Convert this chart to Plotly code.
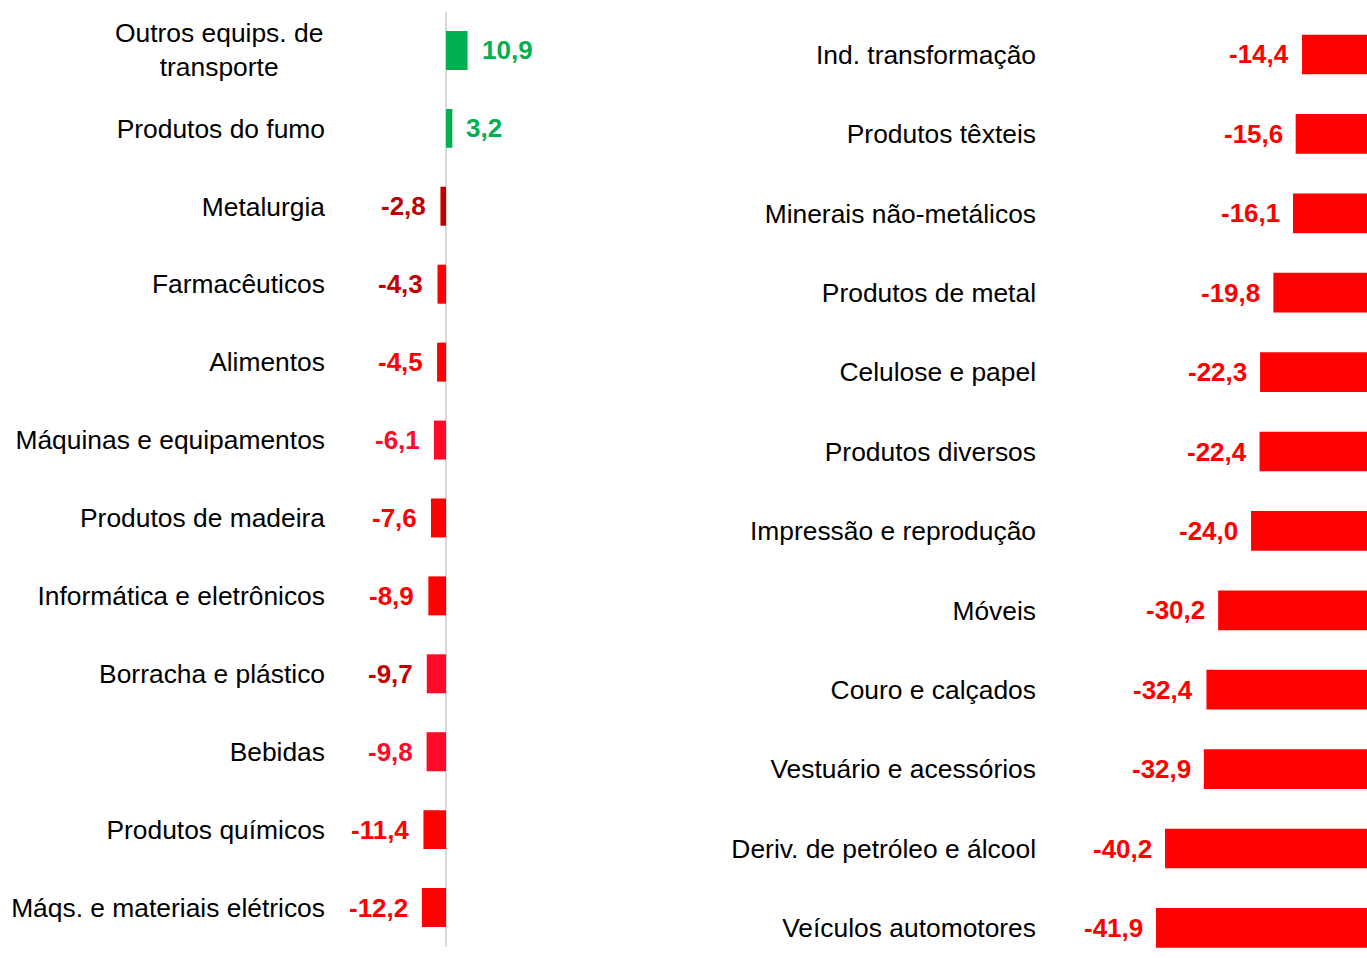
import plotly.graph_objects as go

# ---------------- data ----------------
left_categories = [
    "Outros equips. de<br>transporte", "Produtos do fumo", "Metalurgia", "Farmacêuticos",
    "Alimentos", "Máquinas e equipamentos", "Produtos de madeira",
    "Informática e eletrônicos", "Borracha e plástico", "Bebidas",
    "Produtos químicos", "Máqs. e materiais elétricos",
]
left_values = [10.9, 3.2, -2.8, -4.3, -4.5, -6.1, -7.6, -8.9, -9.7, -9.8, -11.4, -12.2]

right_categories = [
    "Ind. transformação", "Produtos têxteis", "Minerais não-metálicos",
    "Produtos de metal", "Celulose e papel", "Produtos diversos",
    "Impressão e reprodução", "Móveis", "Couro e calçados",
    "Vestuário e acessórios", "Deriv. de petróleo e álcool", "Veículos automotores",
]
right_values = [-14.4, -15.6, -16.1, -19.8, -22.3, -22.4, -24.0, -30.2, -32.4, -32.9, -40.2, -41.9]

# ---------------- styles ----------------
GREEN = "#00B050"
DRED = "#C00000"
RED = "#FF0000"
PRED = "#FF0A28"

left_bar_colors = [GREEN, GREEN, DRED, RED, RED, PRED, RED, RED, PRED, PRED, RED, RED]
left_label_colors = [GREEN, GREEN, DRED, DRED, RED, PRED, RED, RED, DRED, PRED, RED, RED]
right_bar_colors = [RED] * len(right_values)
right_label_colors = [RED] * len(right_values)

FONT = "Liberation Sans, Arial, sans-serif"
FS = 26
CAT_FS = 26.4
W, H = 1367, 958

def fmt(v):
    return "<b>" + f"{v:.1f}".replace(".", ",") + "</b>"

# pixel geometry
L_DOM0, L_DOM1 = 326, 700
L_ZERO, L_SCALE = 446, 1.98
R_DOM0 = 1037
R_ZERO, R_SCALE = 1378.5, 5.31

l_range = [-(L_ZERO - L_DOM0) / L_SCALE, (L_DOM1 - L_ZERO) / L_SCALE]
r_range = [-(R_ZERO - R_DOM0) / R_SCALE, -(R_ZERO - W) / R_SCALE]

fig = go.Figure()

left_ticktext = [c if i != 0 else "" for i, c in enumerate(left_categories)]

fig.add_trace(go.Bar(
    x=left_values, y=left_categories, orientation="h",
    marker=dict(color=left_bar_colors, line=dict(width=0)),
    width=0.5, xaxis="x", yaxis="y", showlegend=False, hoverinfo="skip",
))
fig.add_trace(go.Bar(
    x=right_values, y=right_categories, orientation="h",
    marker=dict(color=right_bar_colors, line=dict(width=0)),
    width=0.5, xaxis="x2", yaxis="y2", showlegend=False, hoverinfo="skip",
))

annotations = []
for c, v, col in zip(left_categories, left_values, left_label_colors):
    annotations.append(dict(
        x=v, y=c, xref="x", yref="y", text=fmt(v), showarrow=False,
        xanchor="left" if v >= 0 else "right", xshift=12 if v >= 0 else -12,
        font=dict(family=FONT, size=FS, color=col), yshift=0,
    ))
for c, v, col in zip(right_categories, right_values, right_label_colors):
    annotations.append(dict(
        x=v, y=c, xref="x2", yref="y2", text=fmt(v), showarrow=False,
        xanchor="left" if v >= 0 else "right", xshift=11 if v >= 0 else -11,
        font=dict(family=FONT, size=FS, color=col), yshift=0,
    ))
# centered two-line category label
annotations.append(dict(
    x=l_range[0], y=left_categories[0], xref="x", yref="y",
    text=left_categories[0], showarrow=False, xanchor="right", align="center",
    xshift=-1, font=dict(family=FONT, size=CAT_FS, color="#000000"),
))

fig.update_layout(
    width=W, height=H,
    margin=dict(l=0, r=0, t=0, b=0),
    paper_bgcolor="white", plot_bgcolor="white",
    font=dict(family=FONT, size=FS, color="#000000"),
    bargap=0.5,
    xaxis=dict(domain=[L_DOM0 / W, L_DOM1 / W], range=l_range, showgrid=False,
               showticklabels=False, zeroline=True, zerolinecolor="#D9D9D9",
               zerolinewidth=2, showline=False, fixedrange=True),
    yaxis=dict(domain=[(H - 946.5) / H, (H - 11.5) / H], range=[11.5, -0.5],
               type="category", tickmode="array", tickvals=left_categories,
               ticktext=left_ticktext, ticks="", showgrid=False,
               showline=False, zeroline=False, anchor="x",
               tickfont=dict(family=FONT, size=CAT_FS, color="#000000")),
    xaxis2=dict(domain=[R_DOM0 / W, 1.0], range=r_range, showgrid=False,
                showticklabels=False, zeroline=False, showline=False, anchor="y2"),
    yaxis2=dict(domain=[0, (H - 14.8) / H], range=[11.379, -0.5],
                type="category", ticks="", showgrid=False, showline=False,
                zeroline=False, anchor="x2",
                tickfont=dict(family=FONT, size=CAT_FS, color="#000000")),
    annotations=annotations,
)

fig.write_html(
    "out.html",
    config={"displayModeBar": False},
    post_script="document.body.style.margin='0';document.body.style.overflow='hidden';",
)
